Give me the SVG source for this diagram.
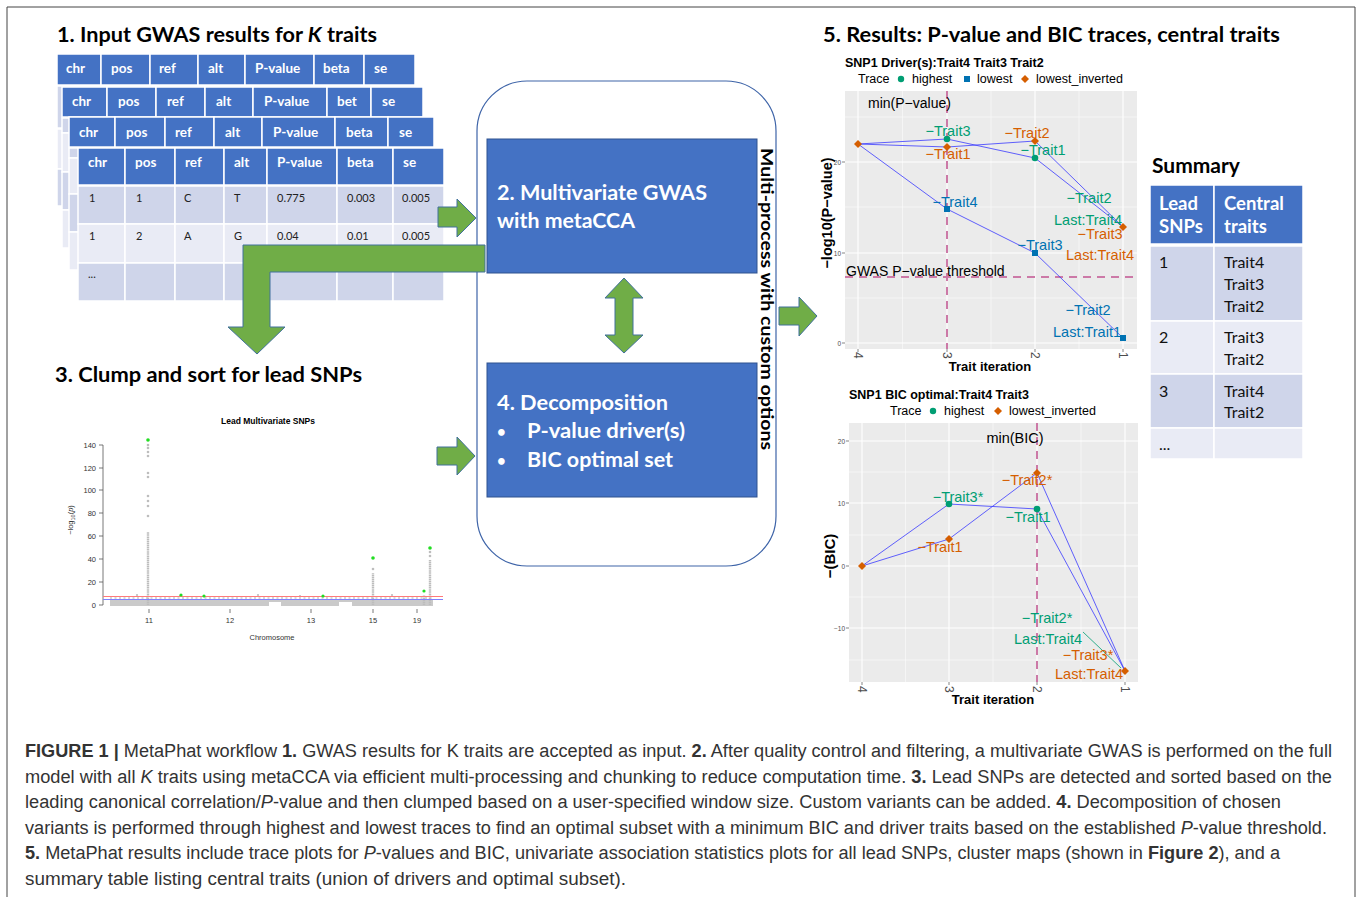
<svg xmlns="http://www.w3.org/2000/svg" width="1360" height="897" viewBox="0 0 1360 897">
<style>
.cal{font-family:Lato,"Open Sans","Liberation Sans",sans-serif}
.ttl{font-family:Lato,"Open Sans","Liberation Sans",sans-serif;font-weight:bold;font-size:20px;fill:#000}
.hd{fill:#4472C4;stroke:#fff;stroke-width:1.5}
.b1{fill:#CFD5EA;stroke:#fff;stroke-width:1.5}
.b2{fill:#E9EBF5;stroke:#fff;stroke-width:1.5}
.ht{font-family:Lato,"Open Sans",sans-serif;font-weight:bold;font-size:13.5px;fill:#fff}
.bt{font-family:Lato,"Open Sans",sans-serif;font-size:11px;fill:#222}
.box{fill:#4472C4;stroke:#2F528F;stroke-width:1}
.bx{font-family:Lato,"Open Sans",sans-serif;font-weight:bold;font-size:21px;fill:#fff}
.arr{fill:#70AD47;stroke:#41719C;stroke-width:1}
.r{font-family:"Liberation Sans",Arial,sans-serif}
.pan{fill:#EBEBEB}
.gM{stroke:#fff;stroke-width:1.1;fill:none}
.gm{stroke:#fff;stroke-width:0.5;fill:none}
.tk{font-family:"Liberation Sans",Arial,sans-serif;font-size:6.5px;fill:#4D4D4D}
.xt{font-family:"Liberation Sans",Arial,sans-serif;font-size:12px;fill:#4D4D4D}
.lab{font-family:"Liberation Sans",Arial,sans-serif;font-size:14.5px;text-anchor:middle}
.g{fill:#009E73}
.bl{fill:#0072B2}
.o{fill:#D55E00}
.ln{stroke:#3B3BFF;stroke-width:1;fill:none;stroke-opacity:0.8}
.dash{stroke:#CC79A7;stroke-width:2;stroke-dasharray:8 6;fill:none}
.axt{font-family:"Liberation Sans",Arial,sans-serif;font-weight:bold;font-size:13px;fill:#000}
.cap{font-family:"Liberation Sans",Arial,sans-serif;font-size:18px;fill:#333}
.st{font-family:Lato,"Open Sans",sans-serif;font-size:16px;fill:#111}
</style>

<!-- figure border -->
<path d="M7,897 V7 H1355 V897" fill="none" stroke="#444" stroke-width="1"/>

<!-- Section 1: input tables -->
<g id="input-tables">
<text class="ttl" x="57" y="42" textLength="320" lengthAdjust="spacingAndGlyphs">1. Input GWAS results for <tspan font-style="italic">K</tspan> traits</text>
<!-- table 1 -->
<g>
<rect class="b1" x="57" y="86" width="358" height="42"/>
<rect class="b2" x="57" y="129" width="358" height="40"/>
<rect class="b1" x="57" y="169" width="358" height="37"/>
<rect class="hd" x="57" y="54" width="44" height="31"/>
<rect class="hd" x="101" y="54" width="49" height="31"/>
<rect class="hd" x="150" y="54" width="48" height="31"/>
<rect class="hd" x="198" y="54" width="47" height="31"/>
<rect class="hd" x="245" y="54" width="69" height="31"/>
<rect class="hd" x="314" y="54" width="50" height="31"/>
<rect class="hd" x="364" y="54" width="51" height="31"/>
<text class="ht" y="73"><tspan x="66">chr</tspan><tspan x="111">pos</tspan><tspan x="159">ref</tspan><tspan x="208">alt</tspan><tspan x="255">P-value</tspan><tspan x="323">beta</tspan><tspan x="374">se</tspan></text>
</g>
<!-- table 2 -->
<g>
<rect class="b1" x="62" y="118" width="361" height="15"/>
<rect class="b2" x="62" y="133" width="361" height="39"/>
<rect class="b1" x="62" y="172" width="361" height="38"/>
<rect class="b2" x="62" y="210" width="361" height="38"/>
<rect class="hd" x="62" y="87" width="45" height="30"/>
<rect class="hd" x="107" y="87" width="49" height="30"/>
<rect class="hd" x="156" y="87" width="49" height="30"/>
<rect class="hd" x="205" y="87" width="48" height="30"/>
<rect class="hd" x="253" y="87" width="74" height="30"/>
<rect class="hd" x="327" y="87" width="44" height="30"/>
<rect class="hd" x="371" y="87" width="52" height="30"/>
<text class="ht" y="106"><tspan x="72">chr</tspan><tspan x="118">pos</tspan><tspan x="167">ref</tspan><tspan x="216">alt</tspan><tspan x="264">P-value</tspan><tspan x="337">bet</tspan><tspan x="382">se</tspan></text>
</g>
<!-- table 3 -->
<g>
<rect class="b1" x="69" y="148" width="365" height="10"/>
<rect class="b2" x="69" y="158" width="365" height="36"/>
<rect class="b1" x="69" y="194" width="365" height="38"/>
<rect class="b2" x="69" y="232" width="365" height="38"/>
<rect class="hd" x="69" y="117" width="46" height="30"/>
<rect class="hd" x="115" y="117" width="50" height="30"/>
<rect class="hd" x="165" y="117" width="49" height="30"/>
<rect class="hd" x="214" y="117" width="48" height="30"/>
<rect class="hd" x="262" y="117" width="73" height="30"/>
<rect class="hd" x="335" y="117" width="53" height="30"/>
<rect class="hd" x="388" y="117" width="46" height="30"/>
<text class="ht" y="137"><tspan x="79">chr</tspan><tspan x="126">pos</tspan><tspan x="175">ref</tspan><tspan x="225">alt</tspan><tspan x="273">P-value</tspan><tspan x="346">beta</tspan><tspan x="399">se</tspan></text>
</g>
<!-- table 4 (front) -->
<g>
<rect class="hd" x="78" y="148" width="47" height="37"/>
<rect class="hd" x="125" y="148" width="50" height="37"/>
<rect class="hd" x="175" y="148" width="49" height="37"/>
<rect class="hd" x="224" y="148" width="43" height="37"/>
<rect class="hd" x="267" y="148" width="70" height="37"/>
<rect class="hd" x="337" y="148" width="56" height="37"/>
<rect class="hd" x="393" y="148" width="51" height="37"/>
<rect class="b1" x="78" y="186" width="47" height="38"/>
<rect class="b1" x="125" y="186" width="50" height="38"/>
<rect class="b1" x="175" y="186" width="49" height="38"/>
<rect class="b1" x="224" y="186" width="43" height="38"/>
<rect class="b1" x="267" y="186" width="70" height="38"/>
<rect class="b1" x="337" y="186" width="56" height="38"/>
<rect class="b1" x="393" y="186" width="51" height="38"/>
<rect class="b2" x="78" y="224" width="47" height="39"/>
<rect class="b2" x="125" y="224" width="50" height="39"/>
<rect class="b2" x="175" y="224" width="49" height="39"/>
<rect class="b2" x="224" y="224" width="43" height="39"/>
<rect class="b2" x="267" y="224" width="70" height="39"/>
<rect class="b2" x="337" y="224" width="56" height="39"/>
<rect class="b2" x="393" y="224" width="51" height="39"/>
<rect class="b1" x="78" y="263" width="47" height="38"/>
<rect class="b1" x="125" y="263" width="50" height="38"/>
<rect class="b1" x="175" y="263" width="49" height="38"/>
<rect class="b1" x="224" y="263" width="43" height="38"/>
<rect class="b1" x="267" y="263" width="70" height="38"/>
<rect class="b1" x="337" y="263" width="56" height="38"/>
<rect class="b1" x="393" y="263" width="51" height="38"/>
<text class="ht" y="167"><tspan x="88">chr</tspan><tspan x="135">pos</tspan><tspan x="185">ref</tspan><tspan x="234">alt</tspan><tspan x="277">P-value</tspan><tspan x="347">beta</tspan><tspan x="403">se</tspan></text>
<text class="bt" y="202"><tspan x="89">1</tspan><tspan x="136">1</tspan><tspan x="184">C</tspan><tspan x="234">T</tspan><tspan x="277">0.775</tspan><tspan x="347">0.003</tspan><tspan x="402">0.005</tspan></text>
<text class="bt" y="240"><tspan x="89">1</tspan><tspan x="136">2</tspan><tspan x="184">A</tspan><tspan x="234">G</tspan><tspan x="277">0.04</tspan><tspan x="347">0.01</tspan><tspan x="402">0.005</tspan></text>
<text class="bt" x="88" y="278">...</text>
</g>
</g>

<!-- Section 3: Manhattan plot -->
<g id="manhattan">
<text class="ttl" x="55" y="382" textLength="307" lengthAdjust="spacingAndGlyphs">3. Clump and sort for lead SNPs</text>
<text class="r" x="268" y="424" font-size="8.5" font-weight="bold" text-anchor="middle">Lead Multivariate SNPs</text>
<g stroke="#555" stroke-width="0.8">
<line x1="103" y1="445" x2="103" y2="605"/>
<line x1="99" y1="445" x2="103" y2="445"/><line x1="99" y1="468" x2="103" y2="468"/><line x1="99" y1="490" x2="103" y2="490"/><line x1="99" y1="513" x2="103" y2="513"/><line x1="99" y1="536" x2="103" y2="536"/><line x1="99" y1="559" x2="103" y2="559"/><line x1="99" y1="582" x2="103" y2="582"/><line x1="99" y1="605" x2="103" y2="605"/>
<line x1="149" y1="609" x2="149" y2="613"/><line x1="230" y1="609" x2="230" y2="613"/><line x1="311" y1="609" x2="311" y2="613"/><line x1="373" y1="609" x2="373" y2="613"/><line x1="417" y1="609" x2="417" y2="613"/>
</g>
<g class="r" font-size="7.5" fill="#333" text-anchor="end">
<text x="96" y="448">140</text><text x="96" y="471">120</text><text x="96" y="493">100</text><text x="96" y="516">80</text><text x="96" y="539">60</text><text x="96" y="562">40</text><text x="96" y="585">20</text><text x="96" y="608">0</text>
</g>
<g class="r" font-size="7.5" fill="#333" text-anchor="middle">
<text x="149" y="623">11</text><text x="230" y="623">12</text><text x="311" y="623">13</text><text x="373" y="623">15</text><text x="417" y="623">19</text>
<text x="272" y="640">Chromosome</text>
</g>
<text class="r" font-size="7.5" fill="#333" text-anchor="middle" transform="translate(73,520) rotate(-90)">−log<tspan font-size="5.5" dy="2">10</tspan><tspan dy="-2">(</tspan><tspan font-style="italic">p</tspan>)</text>
<!-- points -->
<rect x="110" y="600" width="323" height="6" fill="#CACACA"/>
<line x1="110" y1="598" x2="433" y2="598" stroke="#C8C8C8" stroke-width="1.5" stroke-dasharray="2 2.5"/>
<rect x="269" y="602" width="12" height="5" fill="#fff"/>
<rect x="339" y="602" width="13" height="5" fill="#fff"/>
<g stroke="#BDBDBD" stroke-width="2.4" stroke-dasharray="1.4 0.5">
<line x1="148" y1="605" x2="148" y2="532"/>
<line x1="373" y1="605" x2="373" y2="573"/>
<line x1="430" y1="605" x2="430" y2="560"/>
<line x1="424" y1="605" x2="424" y2="595"/>
</g>
<g fill="#BDBDBD">
<circle cx="148" cy="516" r="1.3"/><circle cx="148" cy="506" r="1.3"/><circle cx="148" cy="501" r="1.3"/><circle cx="148" cy="496" r="1.3"/><circle cx="148" cy="477" r="1.3"/><circle cx="148" cy="473" r="1.3"/><circle cx="148" cy="456" r="1.3"/><circle cx="148" cy="452" r="1.3"/><circle cx="148" cy="448" r="1.3"/><circle cx="148" cy="445" r="1.3"/>
<circle cx="430" cy="556" r="1.3"/><circle cx="430" cy="552" r="1.3"/><circle cx="373" cy="569" r="1.3"/>
<circle cx="137" cy="595" r="1.1"/><circle cx="180" cy="596" r="1.1"/><circle cx="258" cy="595" r="1.1"/><circle cx="300" cy="596" r="1.1"/><circle cx="392" cy="595" r="1.1"/>
</g>
<line x1="103" y1="596.5" x2="443" y2="596.5" stroke="#FF7A7A" stroke-width="1"/>
<line x1="103" y1="599.5" x2="443" y2="599.5" stroke="#7F7FFF" stroke-width="1"/>
<g fill="#22DD22">
<circle cx="148" cy="440" r="1.8"/><circle cx="373" cy="558" r="1.8"/><circle cx="430" cy="548" r="1.8"/><circle cx="424" cy="591" r="1.6"/><circle cx="181" cy="595" r="1.6"/><circle cx="204" cy="596" r="1.6"/><circle cx="323" cy="596" r="1.6"/>
</g>
</g>

<!-- Container -->
<g id="multiprocess">
<rect x="477" y="81" width="299" height="485" rx="50" ry="50" fill="#fff" stroke="#3E64A8" stroke-width="1.2"/>
<text class="cal" font-weight="bold" font-size="17" fill="#000" transform="translate(761,148) rotate(90)" textLength="302" lengthAdjust="spacingAndGlyphs">Multi-process with custom options</text>
</g>

<g id="box2">
<rect class="box" x="487" y="139" width="270" height="134"/>
<text class="bx" x="497" y="200" textLength="210" lengthAdjust="spacingAndGlyphs">2. Multivariate GWAS</text>
<text class="bx" x="497" y="228" textLength="138" lengthAdjust="spacingAndGlyphs">with metaCCA</text>
</g>

<g id="box4">
<rect class="box" x="487" y="363" width="270" height="134"/>
<text class="bx" x="497" y="410" textLength="171" lengthAdjust="spacingAndGlyphs">4. Decomposition</text>
<text class="bx" x="497" y="437" style="font-size:15px">•</text>
<text class="bx" x="527" y="438" textLength="158" lengthAdjust="spacingAndGlyphs">P-value driver(s)</text>
<text class="bx" x="497" y="466" style="font-size:15px">•</text>
<text class="bx" x="527" y="467" textLength="146" lengthAdjust="spacingAndGlyphs">BIC optimal set</text>
</g>

<!-- Connectors -->
<g id="connectors">
<polygon class="arr" points="438,207 457,207 457,199 476,218 457,237 457,227 438,227"/>
<polygon class="arr" points="485,245 243,245 243,327 228,327 257,354 285,327 270,327 270,272 485,272"/>
<polygon class="arr" points="624,278 643,298 633,298 633,335 643,335 624,353 605,335 615,335 615,298 605,298"/>
<polygon class="arr" points="437,447 457,447 457,437 475,456 457,475 457,465 437,465"/>
<polygon class="arr" points="779,307 799,307 799,297 817,316 799,336 799,325 779,325"/>
</g>

<!-- Section 5 -->
<g id="results-title">
<text class="ttl" x="823" y="42" textLength="457" lengthAdjust="spacingAndGlyphs">5. Results: P-value and BIC traces, central traits</text>
</g>

<!-- Trace plot 1 -->
<g id="pvalue-trace">
<text class="r" x="845" y="67" font-size="12.5" font-weight="bold">SNP1 Driver(s):Trait4 Trait3 Trait2</text>
<text class="r" y="83" font-size="12.5"><tspan x="858">Trace</tspan><tspan x="912">highest</tspan><tspan x="977">lowest</tspan><tspan x="1036">lowest_inverted</tspan></text>
<circle class="g" cx="901" cy="79" r="3.2"/>
<rect class="bl" x="964" y="76" width="6" height="6"/>
<polygon class="o" points="1025,75 1029,79 1025,83 1021,79"/>
<rect class="pan" x="845" y="91" width="292" height="258"/>
<g class="gm"><line x1="845" y1="298" x2="1137" y2="298"/><line x1="845" y1="207" x2="1137" y2="207"/><line x1="845" y1="117" x2="1137" y2="117"/><line x1="902.5" y1="91" x2="902.5" y2="349"/><line x1="991" y1="91" x2="991" y2="349"/><line x1="1079" y1="91" x2="1079" y2="349"/></g>
<g class="gM"><line x1="845" y1="343" x2="1137" y2="343"/><line x1="845" y1="253" x2="1137" y2="253"/><line x1="845" y1="162" x2="1137" y2="162"/><line x1="858" y1="91" x2="858" y2="349"/><line x1="947" y1="91" x2="947" y2="349"/><line x1="1035" y1="91" x2="1035" y2="349"/><line x1="1123" y1="91" x2="1123" y2="349"/></g>
<g stroke="#333" stroke-width="0.6"><line x1="842" y1="343" x2="845" y2="343"/><line x1="842" y1="253" x2="845" y2="253"/><line x1="842" y1="162" x2="845" y2="162"/><line x1="858" y1="349" x2="858" y2="352"/><line x1="947" y1="349" x2="947" y2="352"/><line x1="1035" y1="349" x2="1035" y2="352"/><line x1="1123" y1="349" x2="1123" y2="352"/></g>
<g class="tk" text-anchor="end"><text x="841" y="345.5">0</text><text x="841" y="255.5">10</text><text x="841" y="164.5">20</text></g>
<text class="xt" transform="translate(854,352) rotate(90)">4</text>
<text class="xt" transform="translate(943,352) rotate(90)">3</text>
<text class="xt" transform="translate(1031,352) rotate(90)">2</text>
<text class="xt" transform="translate(1119,352) rotate(90)">1</text>
<text class="axt" x="990" y="371" text-anchor="middle">Trait iteration</text>
<text class="axt" style="font-size:14.5px" text-anchor="middle" transform="translate(832,213) rotate(-90)">−log10(P−value)</text>
<line class="dash" x1="947" y1="91" x2="947" y2="349"/>
<line class="dash" x1="845" y1="277" x2="1137" y2="277"/>
<text class="r" x="868" y="108" font-size="14">min(P−value)</text>
<text class="r" x="846" y="276" font-size="14">GWAS P−value threshold</text>
<polyline class="ln" points="858,144 947,139 1035,158 1123,227"/>
<polyline class="ln" points="858,144 947,147 1035,141 1123,227"/>
<polyline class="ln" points="858,144 947,209 1035,253 1123,338"/>
<circle class="g" cx="947" cy="139" r="3.3"/>
<circle class="g" cx="1035" cy="158" r="3.3"/>
<rect class="bl" x="944" y="206" width="6" height="6"/>
<rect class="bl" x="1032" y="250" width="6" height="6"/>
<rect class="bl" x="1120" y="335" width="6" height="6"/>
<polygon class="o" points="858,140 862,144 858,148 854,144"/>
<polygon class="o" points="947,143 951,147 947,151 943,147"/>
<polygon class="o" points="1035,137 1039,141 1035,145 1031,141"/>
<polygon class="o" points="1123,223 1127,227 1123,231 1119,227"/>
<g class="lab">
<text class="g" x="948" y="136">−Trait3</text>
<text class="o" x="948" y="159">−Trait1</text>
<text class="o" x="1027" y="138">−Trait2</text>
<text class="g" x="1043" y="155">−Trait1</text>
<text class="bl" x="955" y="207">−Trait4</text>
<text class="g" x="1089" y="203">−Trait2</text>
<text class="g" x="1088" y="225">Last:Trait4</text>
<text class="o" x="1100" y="239">−Trait3</text>
<text class="o" x="1100" y="260">Last:Trait4</text>
<text class="bl" x="1040" y="250">−Trait3</text>
<text class="bl" x="1088" y="315">−Trait2</text>
<text class="bl" x="1087" y="337">Last:Trait1</text>
</g>
</g>

<!-- Trace plot 2 -->
<g id="bic-trace">
<text class="r" x="849" y="399" font-size="12.5" font-weight="bold">SNP1 BIC optimal:Trait4 Trait3</text>
<text class="r" y="415" font-size="12.5"><tspan x="890">Trace</tspan><tspan x="944">highest</tspan><tspan x="1009">lowest_inverted</tspan></text>
<circle class="g" cx="933" cy="411" r="3.2"/>
<polygon class="o" points="998,407 1002,411 998,415 994,411"/>
<rect class="pan" x="849" y="423" width="289" height="259"/>
<g class="gm"><line x1="849" y1="472" x2="1138" y2="472"/><line x1="849" y1="535" x2="1138" y2="535"/><line x1="849" y1="597" x2="1138" y2="597"/><line x1="849" y1="660" x2="1138" y2="660"/><line x1="905.5" y1="423" x2="905.5" y2="682"/><line x1="993" y1="423" x2="993" y2="682"/><line x1="1081" y1="423" x2="1081" y2="682"/></g>
<g class="gM"><line x1="849" y1="441" x2="1138" y2="441"/><line x1="849" y1="503" x2="1138" y2="503"/><line x1="849" y1="566" x2="1138" y2="566"/><line x1="849" y1="628" x2="1138" y2="628"/><line x1="862" y1="423" x2="862" y2="682"/><line x1="949" y1="423" x2="949" y2="682"/><line x1="1037" y1="423" x2="1037" y2="682"/><line x1="1125" y1="423" x2="1125" y2="682"/></g>
<g stroke="#333" stroke-width="0.6"><line x1="846" y1="441" x2="849" y2="441"/><line x1="846" y1="503" x2="849" y2="503"/><line x1="846" y1="566" x2="849" y2="566"/><line x1="846" y1="628" x2="849" y2="628"/><line x1="862" y1="682" x2="862" y2="685"/><line x1="949" y1="682" x2="949" y2="685"/><line x1="1037" y1="682" x2="1037" y2="685"/><line x1="1125" y1="682" x2="1125" y2="685"/></g>
<g class="tk" text-anchor="end"><text x="845" y="443.5">20</text><text x="845" y="505.5">10</text><text x="845" y="568.5">0</text><text x="845" y="630.5">−10</text></g>
<text class="xt" transform="translate(858,686) rotate(90)">4</text>
<text class="xt" transform="translate(945,686) rotate(90)">3</text>
<text class="xt" transform="translate(1033,686) rotate(90)">2</text>
<text class="xt" transform="translate(1121,686) rotate(90)">1</text>
<text class="axt" x="993" y="704" text-anchor="middle">Trait iteration</text>
<text class="axt" style="font-size:15px" text-anchor="middle" transform="translate(835,556) rotate(-90)">−(BIC)</text>
<line class="dash" x1="1037" y1="423" x2="1037" y2="682"/>
<text class="r" x="1015" y="443" font-size="14.5" text-anchor="middle">min(BIC)</text>
<polyline class="ln" points="862,566 949,504 1037,509 1125,671"/>
<polyline class="ln" points="862,566 949,539 1037,473 1125,671"/>
<line x1="1083" y1="632" x2="1121" y2="668" stroke="#009E73" stroke-width="0.8"/>
<circle class="g" cx="949" cy="504" r="3.3"/>
<circle class="g" cx="1037" cy="509" r="3.3"/>
<polygon class="o" points="862,562 866,566 862,570 858,566"/>
<polygon class="o" points="949,535 953,539 949,543 945,539"/>
<polygon class="o" points="1037,469 1041,473 1037,477 1033,473"/>
<polygon class="o" points="1125,667 1129,671 1125,675 1121,671"/>
<g class="lab">
<text class="g" x="958" y="502">−Trait3*</text>
<text class="o" x="1027" y="485">−Trait2*</text>
<text class="g" x="1028" y="522">−Trait1</text>
<text class="o" x="940" y="552">−Trait1</text>
<text class="g" x="1047" y="623">−Trait2*</text>
<text class="g" x="1048" y="644">Last:Trait4</text>
<text class="o" x="1088" y="660">−Trait3*</text>
<text class="o" x="1089" y="679">Last:Trait4</text>
</g>
</g>

<!-- Summary table -->
<g id="summary">
<text class="ttl" x="1152" y="173" style="font-size:21px">Summary</text>
<rect class="hd" x="1150" y="185" width="64" height="59"/>
<rect class="hd" x="1214" y="185" width="89" height="59"/>
<rect class="b1" x="1150" y="246" width="64" height="75"/>
<rect class="b1" x="1214" y="246" width="89" height="75"/>
<rect class="b2" x="1150" y="321" width="64" height="53"/>
<rect class="b2" x="1214" y="321" width="89" height="53"/>
<rect class="b1" x="1150" y="374" width="64" height="54"/>
<rect class="b1" x="1214" y="374" width="89" height="54"/>
<rect class="b2" x="1150" y="428" width="64" height="31"/>
<rect class="b2" x="1214" y="428" width="89" height="31"/>
<g class="cal" font-weight="bold" font-size="18.5" fill="#fff">
<text x="1159" y="210">Lead</text><text x="1159" y="233">SNPs</text>
<text x="1224" y="210">Central</text><text x="1224" y="233">traits</text>
</g>
<g class="st">
<text x="1159" y="268">1</text><text x="1224" y="268">Trait4</text><text x="1224" y="290">Trait3</text><text x="1224" y="312">Trait2</text>
<text x="1159" y="343">2</text><text x="1224" y="343">Trait3</text><text x="1224" y="365">Trait2</text>
<text x="1159" y="397">3</text><text x="1224" y="397">Trait4</text><text x="1224" y="418">Trait2</text>
<text x="1159" y="450">...</text>
</g>
</g>

<!-- Caption -->
<g id="caption">
<text class="cap" x="25" y="757" textLength="1307" lengthAdjust="spacingAndGlyphs"><tspan font-weight="bold">FIGURE 1 |</tspan> MetaPhat workflow <tspan font-weight="bold">1.</tspan> GWAS results for K traits are accepted as input. <tspan font-weight="bold">2.</tspan> After quality control and filtering, a multivariate GWAS is performed on the full</text>
<text class="cap" x="25" y="782.5" textLength="1307" lengthAdjust="spacingAndGlyphs">model with all <tspan font-style="italic">K</tspan> traits using metaCCA via efficient multi-processing and chunking to reduce computation time. <tspan font-weight="bold">3.</tspan> Lead SNPs are detected and sorted based on the</text>
<text class="cap" x="25" y="808" textLength="1256" lengthAdjust="spacingAndGlyphs">leading canonical correlation/<tspan font-style="italic">P</tspan>-value and then clumped based on a user-specified window size. Custom variants can be added. <tspan font-weight="bold">4.</tspan> Decomposition of chosen</text>
<text class="cap" x="25" y="833.5" textLength="1302" lengthAdjust="spacingAndGlyphs">variants is performed through highest and lowest traces to find an optimal subset with a minimum BIC and driver traits based on the established <tspan font-style="italic">P</tspan>-value threshold.</text>
<text class="cap" x="25" y="859" textLength="1255" lengthAdjust="spacingAndGlyphs"><tspan font-weight="bold">5.</tspan> MetaPhat results include trace plots for <tspan font-style="italic">P</tspan>-values and BIC, univariate association statistics plots for all lead SNPs, cluster maps (shown in <tspan font-weight="bold">Figure 2</tspan>), and a</text>
<text class="cap" x="25" y="884.5" textLength="601" lengthAdjust="spacingAndGlyphs">summary table listing central traits (union of drivers and optimal subset).</text>
</g>
</svg>
